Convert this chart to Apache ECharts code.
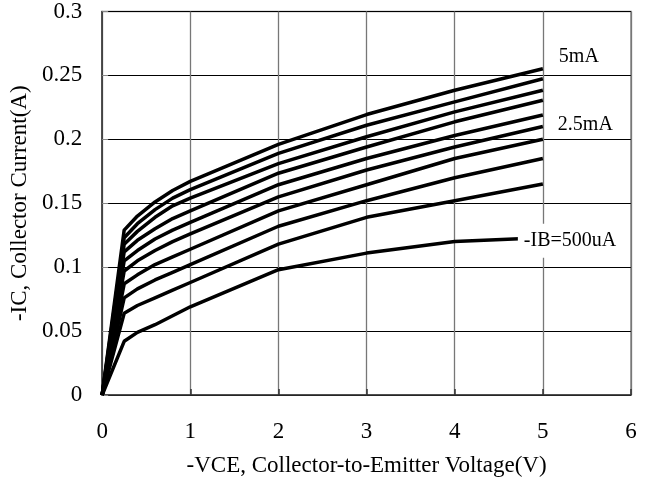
<!DOCTYPE html>
<html>
<head>
<meta charset="utf-8">
<script src="https://cdn.jsdelivr.net/npm/echarts@6/dist/echarts.min.js"></script>
<style>
html,body{margin:0;padding:0;background:#fff;}
#chart{width:646px;height:484px;}
</style>
</head>
<body>
<div id="chart"></div>
<script>
// -VCE (V)
var vce = [0, 0.25, 0.4, 0.6, 0.8, 1, 2, 3, 4, 5];
// -IC (A) for each base current
var ib05 = [0, 0.042, 0.049, 0.055, 0.062, 0.069, 0.098, 0.111, 0.120, 0.123];
var ib10 = [0, 0.064, 0.070, 0.076, 0.082, 0.088, 0.118, 0.139, 0.152, 0.165];
var ib15 = [0, 0.076, 0.083, 0.090, 0.096, 0.102, 0.132, 0.152, 0.170, 0.185];
var ib20 = [0, 0.087, 0.094, 0.102, 0.108, 0.114, 0.144, 0.1645, 0.185, 0.200];
var ib25 = [0, 0.097, 0.105, 0.113, 0.120, 0.126, 0.155, 0.176, 0.194, 0.210];
var ib30 = [0, 0.105, 0.113, 0.122, 0.129, 0.135, 0.1645, 0.185, 0.203, 0.219];
var ib35 = [0, 0.112, 0.121, 0.130, 0.138, 0.144, 0.1735, 0.194, 0.2137, 0.2306];
var ib40 = [0, 0.118, 0.128, 0.139, 0.148, 0.154, 0.181, 0.202, 0.2215, 0.2384];
var ib45 = [0, 0.123, 0.134, 0.145, 0.154, 0.1606, 0.189, 0.211, 0.2293, 0.2474];
var ib50 = [0, 0.129, 0.140, 0.151, 0.160, 0.1671, 0.196, 0.2194, 0.2384, 0.2552];
var seriesNames = ['-IB=500uA','1mA','1.5mA','2mA','2.5mA','3mA','3.5mA','4mA','4.5mA','5mA'];
var seriesVals = [ib05, ib10, ib15, ib20, ib25, ib30, ib35, ib40, ib45, ib50];
var xTicks = [0, 1, 2, 3, 4, 5, 6];
var yTicks = [0, 0.05, 0.1, 0.15, 0.2, 0.25, 0.3];
var xTitle = '-VCE, Collector-to-Emitter Voltage(V)';
var yTitle = '-IC, Collector Current(A)';

var FONT = 'Liberation Serif';
function pairs(v){ return vce.map(function(x,i){ return [x, v[i]]; }); }
var endLabels = {
  0: {show:true, formatter:'-IB=500uA', offset:[-30, 3], backgroundColor:'#fff', padding:[7,6,7,6]},
  4: {show:true, formatter:'2.5mA', offset:[10, -2]},
  9: {show:true, formatter:'5mA', offset:[11, -12]}
};
var series = seriesVals.map(function(v, i){
  var s = {
    name: seriesNames[i], type:'line', data: pairs(v), symbol:'none', smooth:false,
    lineStyle:{color:'#000', width:3.5}, animation:false, z: 3
  };
  if (endLabels[i]) {
    var el = endLabels[i];
    s.endLabel = {show:true, formatter: el.formatter, offset: el.offset, color:'#000',
      fontFamily: FONT, fontSize: 20, backgroundColor: el.backgroundColor || 'transparent',
      padding: el.padding || 0, distance: 5};
  }
  return s;
});

var chart = echarts.init(document.getElementById('chart'), null, {renderer:'canvas'});
chart.setOption({
  backgroundColor:'#fff',
  animation:false,
  grid:{left:101, right:15, top:9, bottom:89, show:true, borderColor:'#888', borderWidth:1.5, backgroundColor:'transparent'},
  xAxis:{
    type:'value', min:xTicks[0], max:xTicks[xTicks.length-1], interval:1,
    name:xTitle, nameLocation:'middle', nameGap:59,
    nameTextStyle:{fontFamily:FONT, fontSize:23, color:'#000'},
    axisLine:{lineStyle:{color:'#333', width:1.5}},
    axisTick:{inside:true, length:6, lineStyle:{color:'#333', width:1.5}},
    axisLabel:{fontFamily:FONT, fontSize:23, color:'#000', margin:25},
    splitLine:{show:true, lineStyle:{color:'#777', width:1.3}}
  },
  yAxis:{
    type:'value', min:yTicks[0], max:yTicks[yTicks.length-1], interval:0.05,
    name:yTitle, nameLocation:'middle', nameGap:63,
    nameTextStyle:{fontFamily:FONT, fontSize:23, color:'#000'},
    axisLine:{lineStyle:{color:'#333', width:1.5}},
    axisTick:{inside:true, length:6, lineStyle:{color:'#888', width:1}},
    axisLabel:{fontFamily:FONT, fontSize:23, color:'#000', margin:20},
    splitLine:{show:true, lineStyle:{color:'#000', width:1}}
  },
  series: series
});
</script>
</body>
</html>
